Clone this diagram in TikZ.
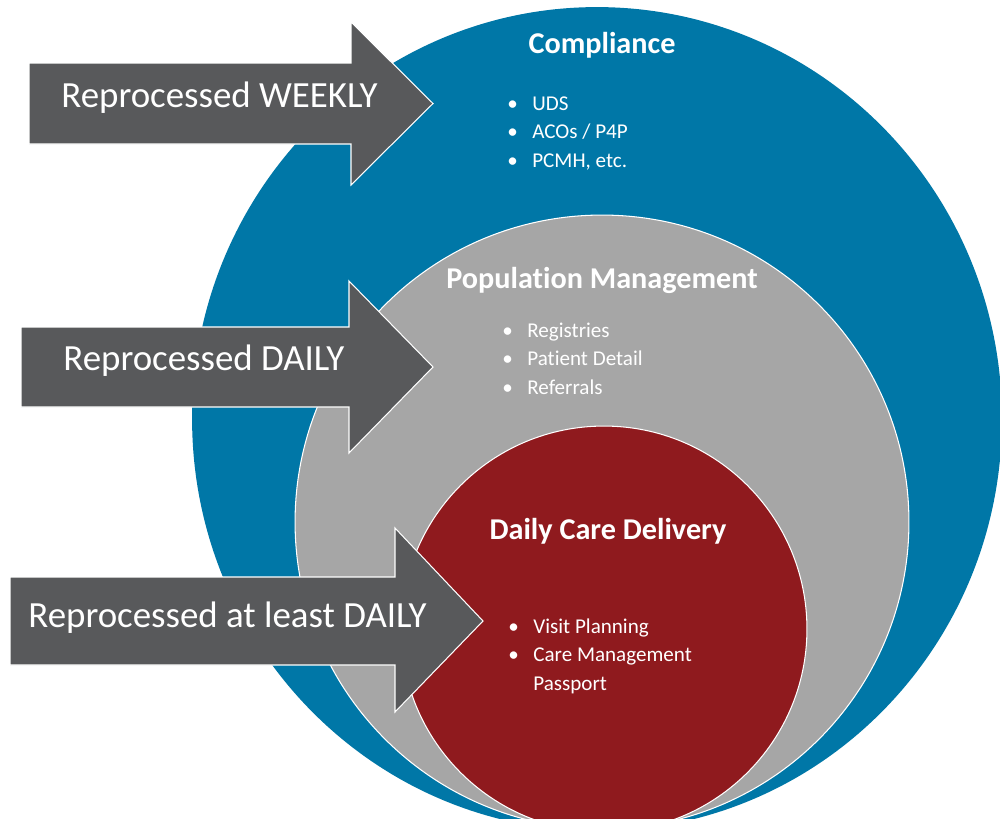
\documentclass[tikz,border=0pt]{standalone}
\usepackage{fontspec}
\setmainfont{Carlito}[Ligatures=NoCommon]
\usepackage{tikz}
\usetikzlibrary{shapes.geometric}
\definecolor{complianceblue}{RGB}{0,119,167}
\definecolor{populationgray}{RGB}{166,166,166}
\definecolor{deliveryred}{RGB}{143,26,30}
\definecolor{flowgray}{RGB}{88,89,91}
\newcommand{\bl}{\makebox[0.5cm][l]{\textbullet}}

\begin{document}
\begin{tikzpicture}
[x=0.02cm, y=-0.02cm,
% STYLES
% The ring style is used for the three nested areas
ring/.style={draw=white, line width=0.6pt, inner sep=0pt},
% The title style is used to write the name of each area
title/.style={anchor=base, text=white, inner sep=0pt, font=\fontsize{17.2}{20}\selectfont\bfseries},
% The items style is used for the bullet lists inside the areas
items/.style={anchor=base west, text=white, inner sep=0pt, font=\fontsize{12}{16.5}\selectfont},
% The flow style is used to draw the reprocessing arrows
flow/.style={fill=flowgray, draw=white, line width=0.6pt, line join=miter},
flowtext/.style={anchor=base west, text=white, inner sep=0pt, font=\fontsize{21}{25}\selectfont}]

\useasboundingbox (0,0) rectangle (1000,818);
\clip (0,0) rectangle (1000,818);

% Draw areas
\node [ring, ellipse, draw=none, fill=complianceblue, minimum width=16.2cm, minimum height=16.48cm] (compliance) at (597,419) {};
\node [ring, circle, fill=populationgray, minimum size=12.28cm] (population) at (602,522) {};
\node [ring, circle, fill=deliveryred, minimum size=8.12cm] (delivery) at (604,629) {};

%%%%%%%%%%%%%%%
% Titles and lists

% compliance
\node [title] (compliance-title) at (602,53) {Compliance};
\node [items] (compliance-list) at (507,110) {\begin{tabular}[t]{@{}l@{}}
\bl UDS\\
\bl ACOs / P4P\\
\bl PCMH, etc.
\end{tabular}};

% population
\node [title] (population-title) at (602,288) {Population Management};
\node [items] (population-list) at (502,337) {\begin{tabular}[t]{@{}l@{}}
\bl Registries\\
\bl Patient Detail\\
\bl Referrals
\end{tabular}};

% delivery
\node [title] (delivery-title) at (608,539) {Daily Care Delivery};
\node [items] (delivery-list) at (508,633) {\begin{tabular}[t]{@{}l@{}}
\bl Visit Planning\\
\bl Care Management\\
\phantom{\bl}Passport
\end{tabular}};

%%%%%%%%%%%%%%%

% Draw the reprocessing arrows
\draw [flow] (29,63) -- (351,63) -- (351,22) -- (433,103.5) -- (351,185) -- (351,144) -- (29,144) -- cycle;
\node [flowtext] (weekly) at (61,107) {Reprocessed WEEKLY};

\draw [flow] (21,327) -- (349,327) -- (349,281) -- (433,367) -- (349,453) -- (349,407) -- (21,407) -- cycle;
\node [flowtext] (daily) at (63,370) {Reprocessed DAILY};

\draw [flow] (10,577) -- (395,577) -- (395,528) -- (483,621) -- (395,712) -- (395,665) -- (10,665) -- cycle;
\node [flowtext] (least-daily) at (28,627) {Reprocessed at least DAILY};

\end{tikzpicture}
\end{document}
